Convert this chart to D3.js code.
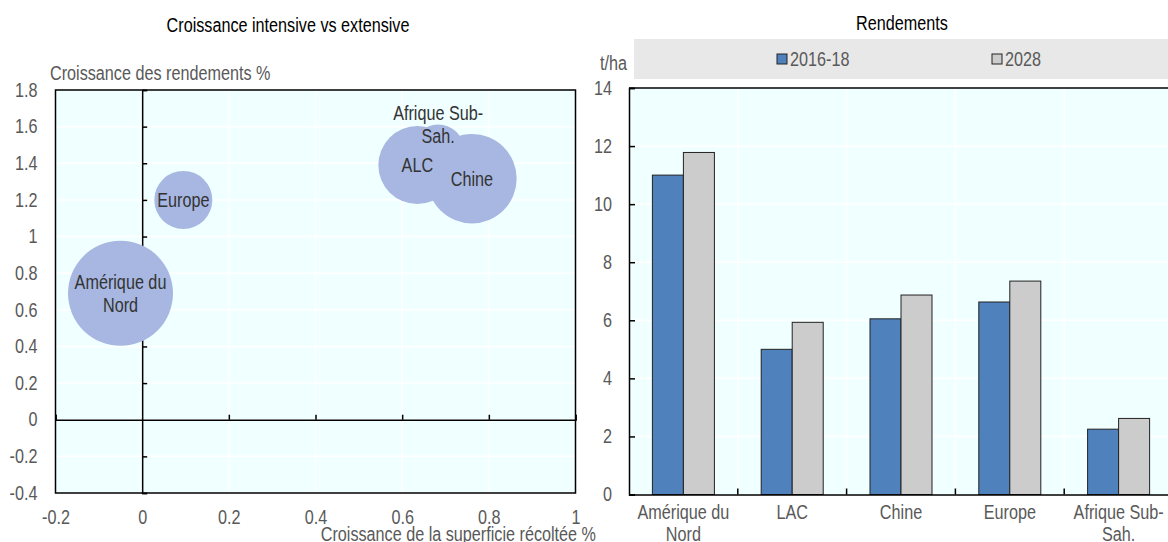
<!DOCTYPE html>
<html>
<head>
<meta charset="utf-8">
<script src="https://cdn.jsdelivr.net/npm/d3@7"></script>
<style>
  html, body { margin: 0; padding: 0; background: #fff; }
  svg { display: block; }
  text { font-family: 'Liberation Sans', Arial, sans-serif; }
</style>
</head>
<body>
<svg id="chart" width="1168" height="542"></svg>
<script>
// ---- Bubble panel: yield growth vs harvested-area growth ----
const regions      = ["Amérique du Nord", "Europe", "Afrique Sub-Sah.", "ALC", "Chine"];
const regionLabels = ["Amérique du\nNord", "Europe", "Afrique Sub-\nSah.", "ALC", "Chine"];
const areaGrowth   = [-0.05, 0.095, 0.683, 0.635, 0.761];   // x, %
const yieldGrowth  = [0.69, 1.2, 1.47, 1.39, 1.316];         // y, %
const bubbleSize   = [390, 119, 96, 215, 283];
const labelAtTop   = [false, false, true, false, false];
const bubbleXTicks = [-0.2, 0, 0.2, 0.4, 0.6, 0.8, 1];
const bubbleYTicks = [-0.4, -0.2, 0, 0.2, 0.4, 0.6, 0.8, 1, 1.2, 1.4, 1.6, 1.8];

// ---- Bar panel: yields in t/ha ----
const categories = ["Amérique du\nNord", "LAC", "Chine", "Europe", "Afrique Sub-\nSah."];
const seriesNames = ["2016-18", "2028"];
const yields2016_18 = [11.0, 5.0, 6.05, 6.63, 2.25];
const yields2028    = [11.78, 5.93, 6.87, 7.35, 2.62];
const barYTicks = [0, 2, 4, 6, 8, 10, 12, 14];

const FS = 19.5;
const NARROW = 0.83;          // horizontal condensing of all text
const TICK_COLOR = "#595959";
const LABEL_COLOR = "#333";
const PLOT_BG = "#f0ffff";
const GRID = "#ffffff";
const BUBBLE = "#a7b7e1";
const SERIES_COLORS = ["#4f81bd", "#cccccc"];

const svg = d3.select("#chart");
const fmt = v => String(+v.toFixed(1));

// one <text> per line, vertically centred on y
function lines(parent, x, y, str, lineH, fill) {
  const parts = str.split("\n");
  const off = -(parts.length - 1) * lineH / 2;
  parts.forEach((l, i) => parent.append("text")
    .attr("x", x).attr("y", y + off + i * lineH)
    .attr("text-anchor", "middle").attr("dominant-baseline", "central")
    .attr("font-size", FS).attr("fill", fill).text(l));
}

// ================= Left panel =================
{
  const x = d3.scaleLinear([-0.2, 1], [55.5, 575.5]);
  const y = d3.scaleLinear([-0.4, 1.8], [493, 90]);
  const r = d3.scaleSqrt([0, 390], [0, 52.5]);
  const g = svg.append("g");

  g.append("text").attr("x", 288).attr("y", 32).attr("text-anchor", "middle")
    .attr("font-size", FS).attr("fill", "#000").text("Croissance intensive vs extensive");

  g.append("rect").attr("x", x.range()[0]).attr("y", y.range()[1])
    .attr("width", x.range()[1] - x.range()[0]).attr("height", y.range()[0] - y.range()[1])
    .attr("fill", PLOT_BG);

  // grid
  g.append("g").selectAll("line").data(bubbleXTicks.slice(1, -1)).join("line")
    .attr("x1", d => x(d)).attr("x2", d => x(d)).attr("y1", y.range()[1]).attr("y2", y.range()[0])
    .attr("stroke", GRID).attr("stroke-width", 1.5);
  g.append("g").selectAll("line").data(bubbleYTicks.slice(1, -1)).join("line")
    .attr("y1", d => y(d)).attr("y2", d => y(d)).attr("x1", x.range()[0]).attr("x2", x.range()[1])
    .attr("stroke", GRID).attr("stroke-width", 1.5);

  // zero axes with inner ticks
  const ax0 = g.append("g").attr("transform", `translate(${x(0)},0)`)
    .call(d3.axisRight(y).tickValues(bubbleYTicks.filter(v => v !== 0)).tickSize(5).tickFormat(""));
  const ay0 = g.append("g").attr("transform", `translate(0,${y(0)})`)
    .call(d3.axisTop(x).tickValues(bubbleXTicks.filter(v => v !== 0)).tickSize(5).tickFormat(""));
  [ax0, ay0].forEach(a => {
    a.select(".domain").attr("stroke", "#000").attr("stroke-width", 1.5);
    a.selectAll(".tick line").attr("stroke", "#000").attr("stroke-width", 1.5);
  });

  // tick labels on the frame
  const lab = g.append("g").attr("transform", `translate(${x.range()[0]},0)`)
    .call(d3.axisLeft(y).tickValues(bubbleYTicks).tickSize(0).tickPadding(18).tickFormat(fmt));
  const labx = g.append("g").attr("transform", `translate(0,${y.range()[0]})`)
    .call(d3.axisBottom(x).tickValues(bubbleXTicks).tickSize(0).tickPadding(17).tickFormat(fmt));
  [lab, labx].forEach(a => {
    a.select(".domain").remove();
    a.attr("font-family", null);
    a.selectAll("text").attr("font-size", FS).attr("fill", TICK_COLOR);
  });

  // frame
  g.append("rect").attr("x", x.range()[0]).attr("y", y.range()[1])
    .attr("width", x.range()[1] - x.range()[0]).attr("height", y.range()[0] - y.range()[1])
    .attr("fill", "none").attr("stroke", "#000").attr("stroke-width", 1.5);

  // bubbles
  const bubbles = regions.map((n, i) => ({ n, label: regionLabels[i], x: areaGrowth[i], y: yieldGrowth[i], s: bubbleSize[i], top: labelAtTop[i] }));
  g.append("g").selectAll("circle").data(bubbles).join("circle")
    .attr("cx", d => x(d.x)).attr("cy", d => y(d.y)).attr("r", d => r(d.s))
    .attr("fill", BUBBLE);
  const bl = g.append("g");
  bubbles.forEach(d => lines(bl, x(d.x), d.top ? y(d.y) - r(d.s) : y(d.y), d.label, 23.5, LABEL_COLOR));

  g.append("text").attr("x", 50).attr("y", 80).attr("font-size", FS).attr("fill", TICK_COLOR)
    .text("Croissance des rendements %");
  g.append("text").attr("x", 596).attr("y", 541).attr("text-anchor", "end")
    .attr("font-size", FS).attr("fill", TICK_COLOR).text("Croissance de la superficie récoltée %");
}

// ================= Right panel =================
{
  const left = 629, right = 1173, top = 88, bottom = 494.5;
  const x = d3.scaleBand(categories, [left, right]);
  const xs = d3.scaleBand(seriesNames, [x.bandwidth() * 0.215, x.bandwidth() * 0.785]);
  const y = d3.scaleLinear([0, 14], [bottom, top]);
  const g = svg.append("g");

  g.append("text").attr("x", 902).attr("y", 30).attr("text-anchor", "middle")
    .attr("font-size", FS).attr("fill", "#000").text("Rendements");

  // legend band
  g.append("rect").attr("x", 634).attr("y", 39).attr("width", 1168 - 634).attr("height", 40).attr("fill", "#e8e8e8");
  const legX = [777, 992];
  seriesNames.forEach((s, i) => {
    g.append("rect").attr("x", legX[i]).attr("y", 54).attr("width", 10).attr("height", 10)
      .attr("fill", SERIES_COLORS[i]).attr("stroke", "#222").attr("stroke-width", 1);
    g.append("text").attr("x", legX[i] + 13).attr("y", 66).attr("font-size", FS).attr("fill", TICK_COLOR).text(s);
  });
  g.append("text").attr("x", 627).attr("y", 70).attr("text-anchor", "end").attr("font-size", FS)
    .attr("fill", TICK_COLOR).text("t/ha");

  g.append("rect").attr("x", left).attr("y", top).attr("width", right - left).attr("height", bottom - top).attr("fill", PLOT_BG);

  // grid
  g.append("g").selectAll("line").data(barYTicks.slice(1, -1)).join("line")
    .attr("x1", left).attr("x2", right).attr("y1", d => y(d)).attr("y2", d => y(d))
    .attr("stroke", GRID).attr("stroke-width", 1.5);
  g.append("g").selectAll("line").data(categories.slice(1)).join("line")
    .attr("x1", d => x(d)).attr("x2", d => x(d)).attr("y1", top).attr("y2", bottom)
    .attr("stroke", GRID).attr("stroke-width", 1.5);

  // bars
  const vals = [yields2016_18, yields2028];
  const rows = categories.flatMap((c, ci) => seriesNames.map((s, si) => ({ c, s, si, v: vals[si][ci] })));
  g.append("g").selectAll("rect").data(rows).join("rect")
    .attr("x", d => x(d.c) + xs(d.s)).attr("width", xs.bandwidth())
    .attr("y", d => y(d.v)).attr("height", d => y(0) - y(d.v))
    .attr("fill", d => SERIES_COLORS[d.si]).attr("stroke", "#222").attr("stroke-width", 1);

  // y axis: inner ticks + labels
  const ya = g.append("g").attr("transform", `translate(${left},0)`)
    .call(d3.axisLeft(y).tickValues(barYTicks).tickSize(-6).tickPadding(17).tickFormat(d3.format("d")));
  ya.attr("font-family", null);
  ya.select(".domain").attr("stroke", "#000").attr("stroke-width", 1.5);
  ya.selectAll(".tick line").attr("stroke", "#000").attr("stroke-width", 1.5);
  ya.selectAll("text").attr("font-size", FS).attr("fill", TICK_COLOR);

  // category axis
  const xa = g.append("g").attr("transform", `translate(0,${bottom})`)
    .call(d3.axisBottom(x).tickSize(0).tickPadding(0).tickFormat(""));
  xa.select(".domain").attr("stroke", "#000").attr("stroke-width", 1.5);
  g.append("g").selectAll("line").data(categories.slice(1)).join("line")
    .attr("x1", d => x(d)).attr("x2", d => x(d)).attr("y1", bottom).attr("y2", bottom - 6)
    .attr("stroke", "#000").attr("stroke-width", 1.5);
  const cl = g.append("g");
  categories.forEach(c => lines(cl, x(c) + x.bandwidth() / 2, c.includes("\n") ? 523 : 512, c, 21.5, TICK_COLOR));

  // frame top line
  g.append("line").attr("x1", left).attr("x2", right).attr("y1", top).attr("y2", top)
    .attr("stroke", "#000").attr("stroke-width", 1.5);
}

// condense every label horizontally (narrow typeface look)
svg.selectAll("text").each(function () {
  if (!this.textContent) return;
  const L = this.getComputedTextLength();
  this.setAttribute("textLength", (L * NARROW).toFixed(2));
  this.setAttribute("lengthAdjust", "spacingAndGlyphs");
});
</script>
</body>
</html>
